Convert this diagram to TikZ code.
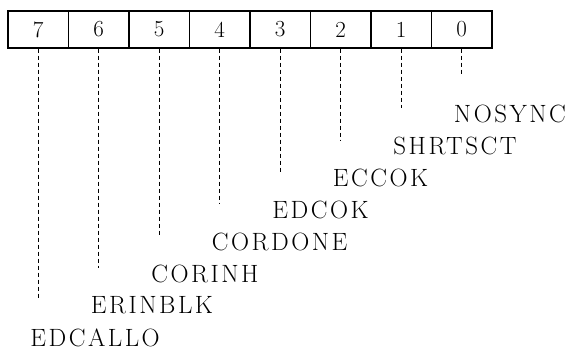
\documentclass[tikz,border=0pt]{standalone}
\usepackage{fontspec}
\setmainfont{Latin Modern Roman}[LetterSpace=10]
\begin{document}
\begin{tikzpicture}[x=1pt,y=-1pt,
  cell/.style={draw,line width=1.2pt,minimum width=60.5pt,minimum height=37pt,inner sep=0pt,font=\fontsize{23}{26}\selectfont\addfontfeatures{LetterSpace=0}},
  lead/.style={dashed,line width=0.9pt,dash pattern=on 4pt off 3pt},
  lbl/.style={anchor=west,inner sep=0pt,font=\fontsize{25}{28}\selectfont}]
\useasboundingbox (0,0) rectangle (568,350);
\foreach \i in {0,...,7}{
  \pgfmathsetmacro{\cx}{8+30.25+60.5*(7-\i)}
  \node[cell] (b\i) at (\cx,29.5) {\i};
}
\foreach \i/\name in {0/NOSYNC,1/SHRTSCT,2/ECCOK,3/EDCOK,4/CORDONE,5/CORINH,6/ERINBLK,7/EDCALLO}{
  \pgfmathsetmacro{\cx}{8+30.25+60.5*(7-\i)}
  \pgfmathsetmacro{\ly}{114+31.93*\i}
  \coordinate (e\i) at (\cx,\ly-38);
  \node[lbl] (l\i) at (\cx-8,\ly) {\name};
  \draw[lead] (b\i.south) -- (e\i);
}
\end{tikzpicture}
\end{document}
